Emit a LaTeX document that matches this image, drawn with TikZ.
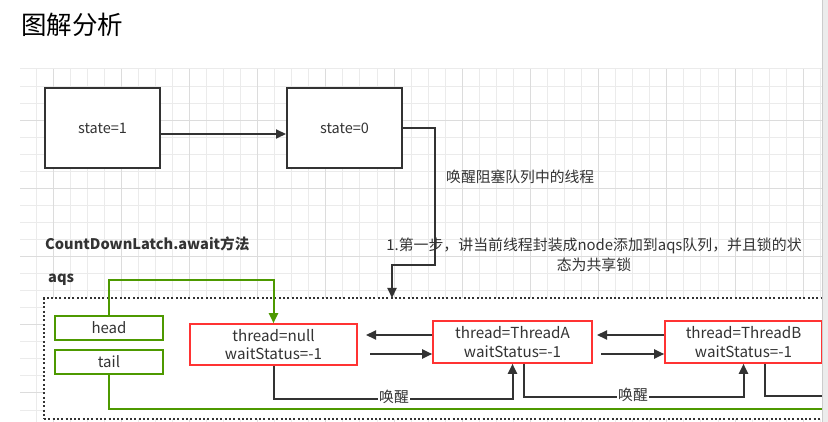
\documentclass[tikz,border=0pt]{standalone}
\usepackage{fontspec}
\setmainfont{Noto Sans CJK SC}
\usetikzlibrary{arrows.meta,calc}
\definecolor{ink}{HTML}{333333}
\definecolor{grn}{HTML}{4D9900}
\definecolor{rd}{HTML}{FF3333}
\definecolor{gridminor}{HTML}{EBEBEB}
\definecolor{gridmajor}{HTML}{DCDCDC}
\tikzset{
  sbox/.style={draw=ink, line width=2, minimum width=115, minimum height=80, text=ink, fill=white},
  gbox/.style={draw=grn, line width=2, minimum width=108, minimum height=24, text=ink, fill=white, inner sep=0, font=\fontsize{15}{18}\selectfont},
  rbox/.style={draw=rd, line width=1.6, minimum height=41, text=ink, align=center, fill=white, inner sep=0, font=\fontsize{15.2}{18.5}\selectfont},
  conn/.style={draw=ink, line width=2},
  gconn/.style={draw=grn, line width=2},
  tip/.style={-{Triangle[length=10pt,width=9pt]}},
  lbl/.style={text=ink, inner sep=0},
  wlbl/.style={text=ink, fill=white, inner sep=1.5}
}
\begin{document}
\begin{tikzpicture}[x=1pt,y=-1pt,font=\fontsize{14.5}{18}\selectfont]
\useasboundingbox (0,0) rectangle (828,422);
\clip (0,0) rectangle (828,422);
\fill[white] (0,0) rectangle (828,422);
% grid
\foreach \k in {0,...,46} \draw[gridminor,line width=1] ({36+17.05*\k},69) -- ({36+17.05*\k},422);
\foreach \k in {0,...,20} \draw[gridminor,line width=1] (20,{69+17.05*\k}) -- (822,{69+17.05*\k});
\foreach \k in {1,5,...,45} \draw[gridmajor,line width=1] ({36+17.05*\k},69) -- ({36+17.05*\k},422);
\foreach \k in {3,7,...,19} \draw[gridmajor,line width=1] (20,{69+17.05*\k}) -- (822,{69+17.05*\k});

% title
\node[lbl, text=black, font=\fontsize{25.5}{30}\selectfont, anchor=west] (title) at (21,24.5) {图解分析};

% state boxes
\node[sbox] (s1) at (102.5,128) {state=1};
\node[sbox] (s0) at (344.5,128) {state=0};
\draw[conn,tip] ($(s1.east)+(0,6)$) -- ($(s0.west)+(0,6)$);

\node[lbl, anchor=west, font=\fontsize{14.8}{18}\selectfont] (wake) at (446,177) {唤醒阻塞队列中的线程};
\node[lbl, anchor=west, font=\fontsize{14.6}{18}\selectfont\bfseries] (cdl) at (45,244) {CountDownLatch.await方法};
\node[lbl, anchor=west, font=\fontsize{14.6}{18}\selectfont\bfseries] (aqslbl) at (48,280) {aqs};
\node[lbl, align=center, font=\fontsize{14.9}{20}\selectfont] (note) at (594,255) {1.第一步，讲当前线程封装成node添加到aqs队列，并且锁的状\\态为共享锁};

% aqs dotted box
\node[draw=ink, line width=2, dash pattern=on 2pt off 2.3pt, fill=white, minimum width=791, minimum height=121, inner sep=0] (aqs) at (439.5,358.5) {};

\coordinate (t1) at (392,298);
\draw[conn,tip] (s0.east) -| (435,265) -| (t1);

% head / tail
\node[gbox] (head) at (109,328) {head};
\node[gbox] (tail) at (109,362) {tail};

% queue nodes
\node[rbox, minimum width=167] (null) at (273.5,344.5) {thread=null\\waitStatus=-1};
\node[rbox, minimum width=159, minimum height=42] (A) at (512.5,342) {thread=ThreadA\\waitStatus=-1};
\node[rbox, minimum width=157, minimum height=42] (B) at (743.5,342) {thread=ThreadB\\waitStatus=-1};

% green pointers
\draw[gconn,tip] (head.north) -- ++(0,-35) -| (null.north);
\coordinate (gend) at (840,409);
\draw[gconn] (tail.south) |- (gend);

% prev/next arrows
\coordinate (n1) at (366,335);
\coordinate (n2) at (370,354);
\coordinate (n3) at (597,335);
\coordinate (n4) at (601,354);
\draw[conn,tip] ($(A.west)+(0,-7)$) -- (n1);
\draw[conn,tip] (n2) -- ($(A.west)+(0,12)$);
\draw[conn,tip] ($(B.west)+(0,-7)$) -- (n3);
\draw[conn,tip] (n4) -- ($(B.west)+(0,12)$);

% wake-up lines
\draw[conn,tip] (null.south) -- ++(0,33) -| (A.south);
\node[wlbl, font=\fontsize{14.8}{18}\selectfont] (w1) at (394,397) {唤醒};
\draw[conn,tip] ($(A.south)+(11.5,0)$) -- ++(0,33) -| (B.south);
\node[wlbl, font=\fontsize{14.8}{18}\selectfont] (w2) at (633,395) {唤醒};
\coordinate (bend) at (840,396);
\draw[conn] ($(B.south)+(21.5,0)$) |- (bend);

% scrollbar
\fill[gray!15] (822,0) rectangle (828,422);
\draw[gray!40,line width=0.8] (822,0) -- (822,422);
\end{tikzpicture}
\end{document}
